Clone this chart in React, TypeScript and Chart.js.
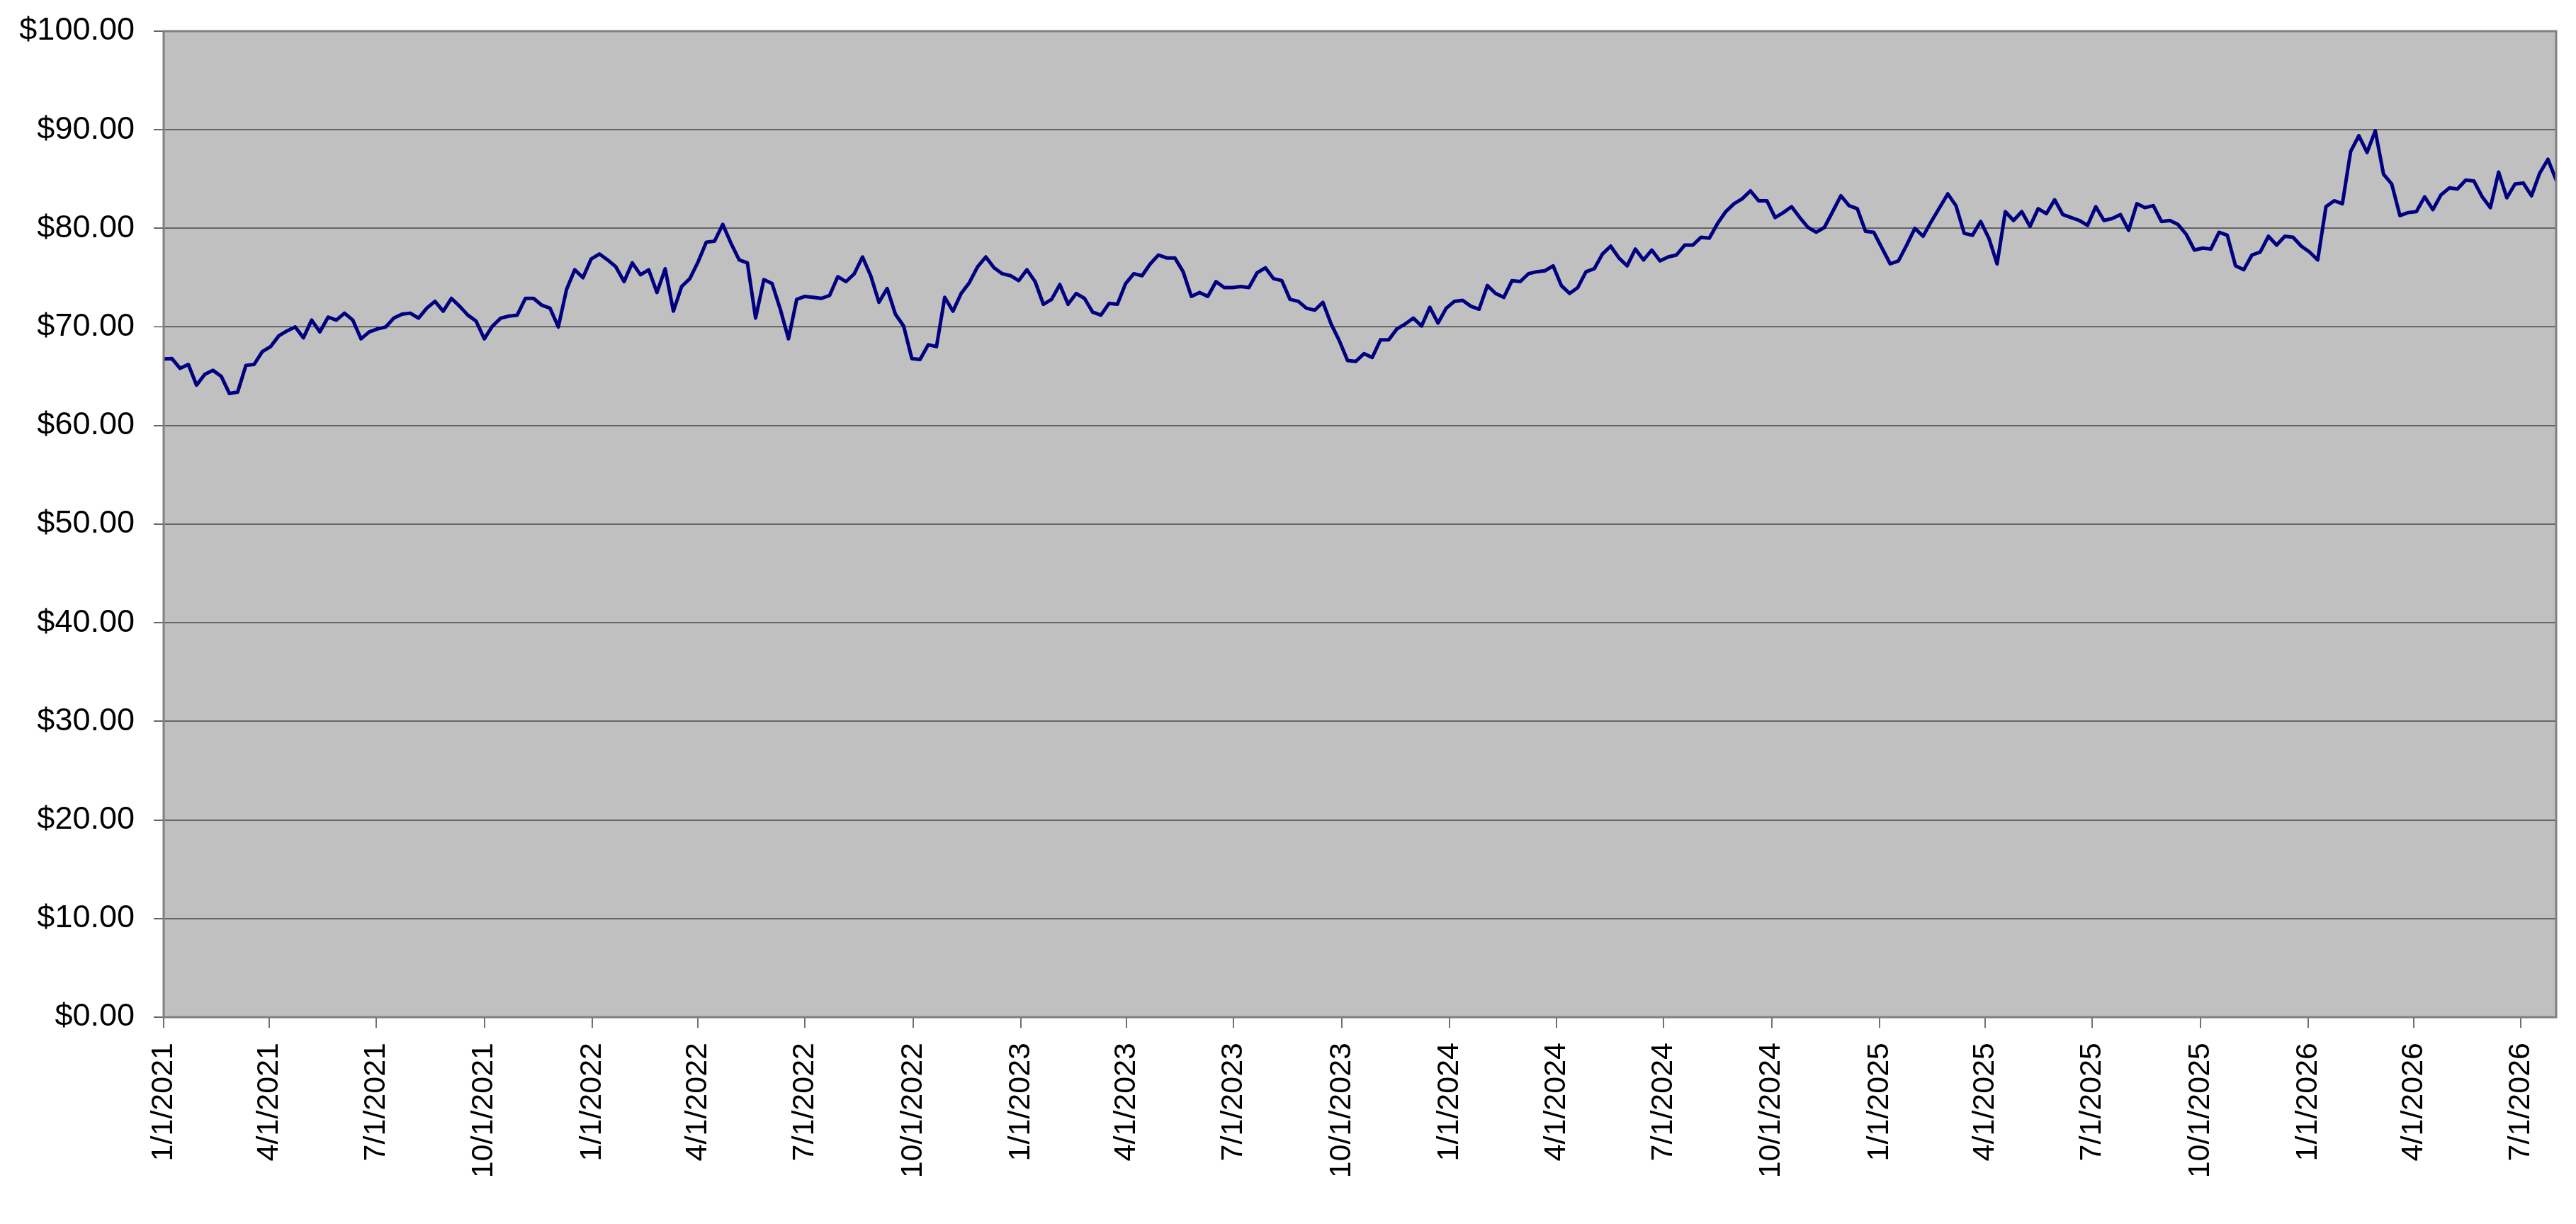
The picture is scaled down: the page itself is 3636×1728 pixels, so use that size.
import { useEffect, useRef } from 'react';
import { Chart, registerables } from 'chart.js';

Chart.register(...registerables);

// weekly closes, first one on 1/1/2021
const startDate = Date.UTC(2021, 0, 1);
const stepDays = 7;

const prices = [
  66.75, 66.8, 65.8, 66.2, 64.1, 65.2, 65.6, 65.0, 63.25, 63.4,
  66.1, 66.2, 67.5, 68.0, 69.1, 69.6, 70.0, 68.9, 70.7, 69.5,
  71.0, 70.7, 71.4, 70.7, 68.8, 69.5, 69.8, 70.0, 70.9, 71.3,
  71.4, 70.9, 71.9, 72.6, 71.6, 72.9, 72.1, 71.2, 70.6, 68.8,
  70.1, 70.9, 71.1, 71.2, 72.9, 72.9, 72.2, 71.9, 70.0, 73.8,
  75.8, 75.0, 76.9, 77.4, 76.8, 76.1, 74.6, 76.5, 75.3, 75.8,
  73.5, 75.9, 71.6, 74.1, 74.9, 76.6, 78.6, 78.7, 80.4, 78.5,
  76.8, 76.5, 70.9, 74.8, 74.4, 71.8, 68.8, 72.8, 73.1, 73.0,
  72.9, 73.2, 75.1, 74.6, 75.4, 77.1, 75.2, 72.5, 73.9, 71.3,
  70.1, 66.8, 66.7, 68.2, 68.0, 73.0, 71.6, 73.4, 74.5, 76.1,
  77.1, 76.0, 75.4, 75.2, 74.7, 75.8, 74.6, 72.3, 72.8, 74.3,
  72.3, 73.4, 72.9, 71.5, 71.2, 72.4, 72.3, 74.4, 75.4, 75.2,
  76.4, 77.3, 77.0, 77.0, 75.6, 73.1, 73.5, 73.1, 74.6, 74.0,
  74.0, 74.1, 74.0, 75.5, 76.0, 74.9, 74.7, 72.8, 72.6, 71.9,
  71.7, 72.5, 70.3, 68.6, 66.6, 66.5, 67.3, 66.9, 68.7, 68.7,
  69.8, 70.3, 70.9, 70.1, 72.0, 70.4, 71.9, 72.6, 72.7, 72.1,
  71.8, 74.2, 73.4, 73.0, 74.7, 74.6, 75.4, 75.6, 75.7, 76.2,
  74.2, 73.4, 74.0, 75.6, 75.9, 77.4, 78.2, 77.0, 76.2, 77.9,
  76.8, 77.8, 76.7, 77.1, 77.3, 78.3, 78.3, 79.1, 79.0, 80.5,
  81.7, 82.5, 83.0, 83.8, 82.8, 82.8, 81.1, 81.6, 82.2, 81.1,
  80.1, 79.6, 80.1, 81.7, 83.3, 82.3, 82.0, 79.7, 79.6, 78.0,
  76.4, 76.7, 78.3, 80.0, 79.2, 80.7, 82.1, 83.5, 82.3, 79.5,
  79.3, 80.7, 79.0, 76.4, 81.7, 80.8, 81.7, 80.2, 82.0, 81.5,
  82.9, 81.4, 81.1, 80.8, 80.3, 82.2, 80.8, 81.0, 81.4, 79.8,
  82.5, 82.1, 82.3, 80.7, 80.8, 80.4, 79.4, 77.8, 78.0, 77.9,
  79.6, 79.3, 76.2, 75.8, 77.3, 77.6, 79.2, 78.3, 79.2, 79.1,
  78.2, 77.6, 76.8, 82.2, 82.8, 82.5, 87.8, 89.4, 87.7, 89.9,
  85.5, 84.5, 81.3, 81.6, 81.7, 83.2, 81.9, 83.4, 84.1, 84.0,
  84.9, 84.8, 83.2, 82.1, 85.7, 83.1, 84.5, 84.6, 83.3, 85.6,
  87.0, 84.9,
];

const xTickLabels = [
  '1/1/2021', '4/1/2021', '7/1/2021', '10/1/2021',
  '1/1/2022', '4/1/2022', '7/1/2022', '10/1/2022',
  '1/1/2023', '4/1/2023', '7/1/2023', '10/1/2023',
  '1/1/2024', '4/1/2024', '7/1/2024', '10/1/2024',
  '1/1/2025', '4/1/2025', '7/1/2025', '10/1/2025',
  '1/1/2026', '4/1/2026', '7/1/2026',
];

const yMin = 0;
const yMax = 100;
const yStep = 10;

const DAY = 86400000;
const labelToDay = (s: string) => {
  const [m, d, y] = s.split('/').map(Number);
  return Math.round((Date.UTC(y, m - 1, d) - startDate) / DAY);
};
const tickDays = xTickLabels.map(labelToDay);
const points = prices.map((v, i) => ({ x: i * stepDays, y: v }));

const FONT = "'Liberation Sans', Arial, Helvetica, sans-serif";

const plotFrame = {
  id: 'plotFrame',
  beforeDraw(chart: any) {
    const { ctx, chartArea: a } = chart;
    ctx.save();
    ctx.fillStyle = '#C0C0C0';
    ctx.fillRect(a.left, a.top, a.right - a.left, a.bottom - a.top);
    ctx.restore();
  },
  afterDatasetsDraw(chart: any) {
    const { ctx, chartArea: a } = chart;
    ctx.save();
    ctx.strokeStyle = '#808080';
    ctx.lineWidth = 3;
    ctx.strokeRect(a.left, a.top, a.right - a.left, a.bottom - a.top);
    ctx.restore();
  },
};

function PriceChart() {
  const chartRef = useRef<HTMLCanvasElement>(null);
  const chartInstanceRef = useRef<Chart | null>(null);

  useEffect(() => {
    if (!chartRef.current) return;
    const ctx = chartRef.current.getContext('2d');
    if (!ctx) return;

    if (chartInstanceRef.current) {
      chartInstanceRef.current.destroy();
    }

    chartInstanceRef.current = new Chart(ctx, {
      type: 'line',
      data: {
        datasets: [{
          data: points,
          borderColor: '#000080',
          borderWidth: 5,
          pointRadius: 0,
          tension: 0,
          borderJoinStyle: 'round',
          borderCapStyle: 'round',
          fill: false,
        }],
      },
      plugins: [plotFrame],
      options: {
        animation: false,
        responsive: true,
        maintainAspectRatio: false,
        layout: { padding: { top: 44, right: 28, left: 0, bottom: 0 } },
        plugins: {
          legend: { display: false },
          tooltip: { enabled: false },
        },
        scales: {
          x: {
            type: 'linear',
            min: 0,
            max: (prices.length - 1) * stepDays,
            afterBuildTicks: (scale: any) => {
              scale.ticks = tickDays.map((v) => ({ value: v }));
            },
            afterFit: (scale: any) => {
              scale.height = 292;
              scale.paddingLeft = 0;
              scale.paddingRight = 0;
            },
            border: { display: false },
            grid: {
              drawOnChartArea: false,
              drawTicks: true,
              tickLength: 15,
              color: '#707070',
              lineWidth: 2,
            },
            ticks: {
              autoSkip: false,
              minRotation: 90,
              maxRotation: 90,
              padding: 21,
              color: '#000',
              font: { family: FONT, size: 43 },
              callback: (v: any) => {
                const i = tickDays.indexOf(Number(v));
                return i >= 0 ? xTickLabels[i] : '';
              },
            },
          },
          y: {
            min: yMin,
            max: yMax,
            afterFit: (scale: any) => {
              scale.width = 231;
              scale.paddingTop = 0;
              scale.paddingBottom = 0;
            },
            border: { display: false },
            grid: {
              drawTicks: true,
              tickLength: 14,
              color: (c: any) => (c.tick && c.tick.value === 70 ? '#000000' : '#666666'),
              lineWidth: (c: any) => (c.tick && c.tick.value === 70 ? 1 : 2),
            },
            ticks: {
              stepSize: yStep,
              padding: 27,
              color: '#000',
              font: { family: FONT, size: 45 },
              callback: (v: any) => '$' + Number(v).toFixed(2),
            },
          },
        },
      },
    });

    return () => {
      if (chartInstanceRef.current) {
        chartInstanceRef.current.destroy();
        chartInstanceRef.current = null;
      }
    };
  }, []);

  return <canvas ref={chartRef} />;
}

export default function App() {
  return (
    <div style={{ position: 'fixed', left: 0, top: 0, width: 3636, height: 1728, background: '#fff' }}>
      <PriceChart />
    </div>
  );
}
